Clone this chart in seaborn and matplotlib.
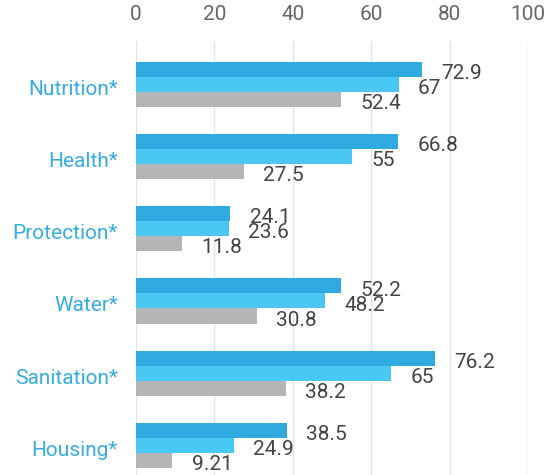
import pandas as pd
import matplotlib.pyplot as plt
import matplotlib.transforms as mtransforms
import seaborn as sns

categories = ['Nutrition*', 'Health*', 'Protection*', 'Water*', 'Sanitation*', 'Housing*']
series_names = ['Series 1', 'Series 2', 'Series 3']
series_1 = [72.9, 66.8, 24.1, 52.2, 76.2, 38.5]
series_2 = [67, 55, 23.6, 48.2, 65, 24.9]
series_3 = [52.4, 27.5, 11.8, 30.8, 38.2, 9.21]
x_ticks = [0, 20, 40, 60, 80, 100]

colors = ['#2eaae1', '#4ac8f4', '#b5b5b5']
label_blue = '#35ade2'
text_gray = '#444444'

rows = []
for name, vals in zip(series_names, [series_1, series_2, series_3]):
    for cat, v in zip(categories, vals):
        rows.append({'category': cat, 'series': name, 'value': v})
df = pd.DataFrame(rows)

sns.set_style('white')
plt.rcParams['font.family'] = ['Roboto', 'DejaVu Sans']

fig = plt.figure(figsize=(5.52, 4.75), dpi=100)
ax = fig.add_axes([136 / 552, 0, (528 - 136) / 552, 1 - 41 / 475])

sns.barplot(data=df, y='category', x='value', hue='series', orient='h',
            palette=colors, saturation=1, width=0.625, gap=0, linewidth=0,
            order=categories, hue_order=series_names, legend=False, ax=ax)

# value labels sit right of each bar, nudged a little below its centre
for container in ax.containers:
    for bar in container:
        w = bar.get_width()
        ax.annotate(f'{w:g}', (w, bar.get_y() + bar.get_height() / 2),
                    xytext=(14, -3), textcoords='offset points',
                    ha='left', va='center', fontsize=15, color=text_gray,
                    annotation_clip=False)

ax.set_xlim(0, 100)
ax.set_ylim(5.41, -0.6)
ax.set_xticks(x_ticks)
ax.xaxis.tick_top()
ax.tick_params(axis='x', length=0, pad=12, labelsize=15, labelcolor='#666666')
ax.tick_params(axis='y', length=0, pad=13, labelsize=15, labelcolor=label_blue)
shift = mtransforms.ScaledTranslation(0, -3 / 100, fig.dpi_scale_trans)
for lbl in ax.get_yticklabels():
    lbl.set_transform(lbl.get_transform() + shift)
ax.grid(axis='x', color='#e3e3e3', linewidth=1)
ax.set_axisbelow(True)
for s in ax.spines.values():
    s.set_visible(False)
ax.set_xlabel('')
ax.set_ylabel('')

fig.savefig('out.png', dpi=100)
